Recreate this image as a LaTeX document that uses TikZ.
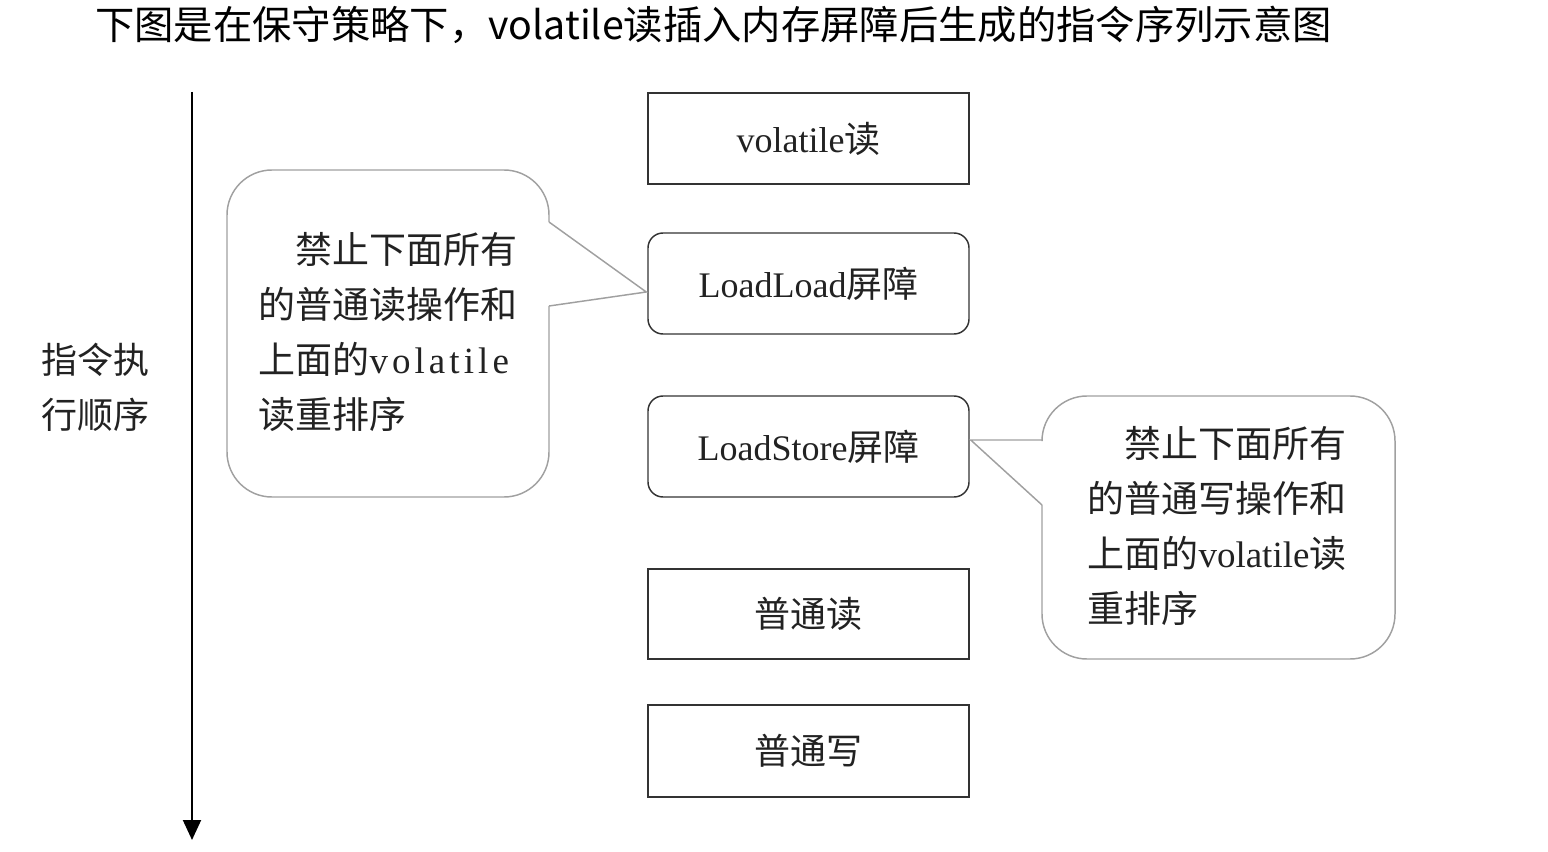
\documentclass[tikz,border=0pt]{standalone}
\usepackage{fontspec}
\setmainfont{Liberation Serif}
\newfontfamily\cjk{Noto Sans CJK SC}
\usetikzlibrary{arrows.meta,calc}

\tikzset{every picture/.style={line width=0.75pt}}
\tikzset{
  instr/.style={draw={rgb,255:red,51;green,51;blue,51},line width=1.1pt,minimum width=240.75pt,inner sep=0pt,
    font=\fontsize{27}{33}\selectfont,text={rgb,255:red,34;green,34;blue,34}},
  barrier/.style={instr,rounded corners=11.25pt,minimum height=75.75pt},
  bubble/.style={draw={rgb,255:red,160;green,160;blue,160},line width=1.1pt},
  note/.style={inner sep=0pt,anchor=west,align=left,font=\cjk\fontsize{27.75}{41.25}\selectfont,
    text={rgb,255:red,34;green,34;blue,34}}
}

\begin{document}
\begin{tikzpicture}[x=0.75pt,y=0.75pt,yscale=-1,xscale=1]
\useasboundingbox (0,0) rectangle (1548,852);

% Text Node
\node (title) [inner sep=0pt,font=\cjk\fontsize{29.5}{35}\selectfont] at (713.5,25) {下图是在保守策略下，volatile读插入内存屏障后生成的指令序列示意图};

%Straight Lines
\coordinate (axtop) at (192,92);
\coordinate (axbot) at (192,840);
\draw [line width=1.5pt,-{Triangle[length=15pt,width=13.5pt]}] (axtop) -- (axbot);
% Text Node
\node (order) [inner sep=0pt,align=center,font=\cjk\fontsize{27}{41.25}\selectfont,text={rgb,255:red,34;green,34;blue,34}] at (95,387.5) {指令执\\行顺序};

%Shape: Rectangle
\node (vread) [instr,minimum height=68.25pt] at (808.5,138.5) {volatile{\cjk 读}};
%Rounded Rect
\node (ll) [barrier] at (808.5,283.5) {LoadLoad{\cjk 屏障}};
%Rounded Rect
\node (ls) [barrier] at (808.5,446.5) {LoadStore{\cjk 屏障}};
%Shape: Rectangle
\node (nread) [instr,minimum height=67.5pt] at (808.5,614) {{\cjk 普通读}};
%Shape: Rectangle
\node (nwrite) [instr,minimum height=69pt] at (808.5,751) {{\cjk 普通写}};

%Callout: LoadLoad
\draw [bubble,rounded corners=33.75pt] (549,222) -- (549,170) -- (227,170) -- (227,497) -- (549,497) -- (549,306);
\draw [bubble] (549,222) -- ($(ll.west)+(-1,8.5)$) -- (549,306);
% Text Node
\node (llnote) [note] at (258,332.5) {\hspace{27.75pt}禁止下面所有\\的普通读操作和\\上面的\textrm{\addfontfeature{LetterSpace=11}volatile}\\读重排序};

%Callout: LoadStore
\draw [bubble,rounded corners=33.75pt] (1042,440) -- (1042,396) -- (1395,396) -- (1395,659) -- (1042,659) -- (1042,505);
\draw [bubble] (1042,440) -- ($(ls.east)+(1,-6.5)$) -- (1042,505);
% Text Node
\node (lsnote) [note] at (1087,525.5) {\hspace{27.75pt}禁止下面所有\\的普通写操作和\\上面的\textrm{volatile}读\\重排序};

\end{tikzpicture}
\end{document}
